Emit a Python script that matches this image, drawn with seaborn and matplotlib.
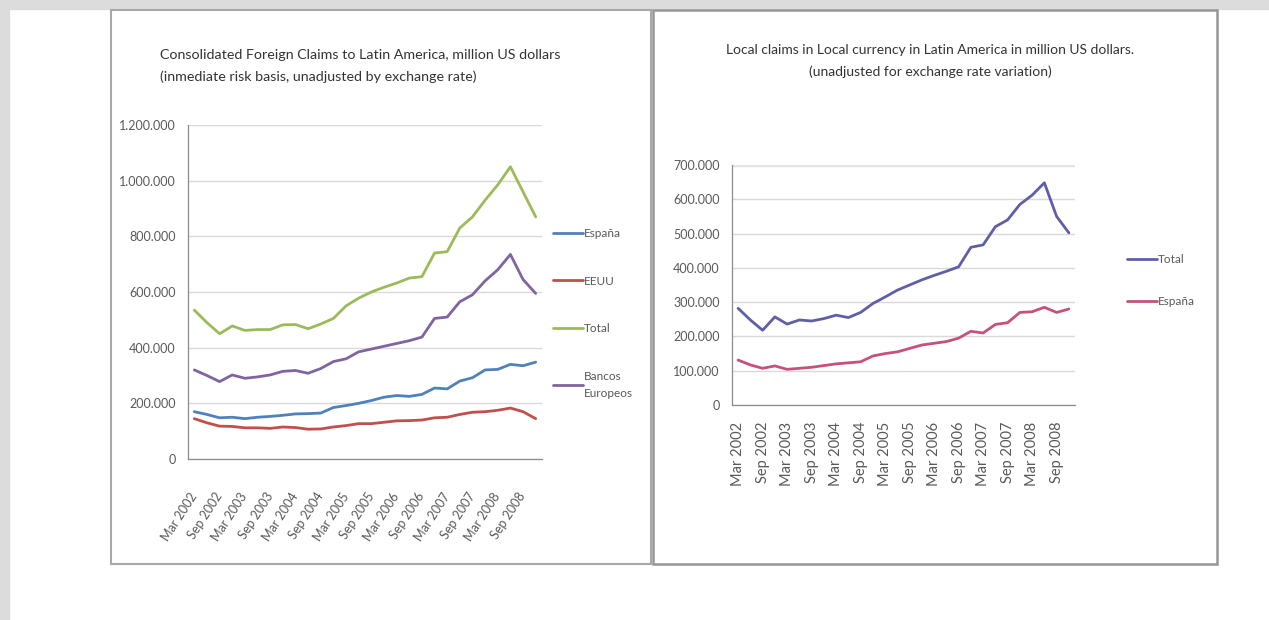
import numpy as np
import pandas as pd
import matplotlib
matplotlib.use("Agg")
import matplotlib.pyplot as plt
import seaborn as sns
from matplotlib.patches import Rectangle
from matplotlib.ticker import FuncFormatter

# quarterly data, Mar 2002 .. Dec 2008 (values in thousands of million USD)
quarters = [m + " " + str(y) for y in range(2002, 2009) for m in ["Mar", "Jun", "Sep", "Dec"]]

espana_cons = [170, 160, 148, 150, 145, 150, 153, 157, 162, 163, 165, 185, 192, 200,
               210, 222, 228, 225, 232, 255, 252, 280, 292, 320, 322, 340, 335, 348]
eeuu_cons = [145, 130, 118, 117, 112, 112, 110, 115, 113, 107, 108, 115, 120, 127,
             127, 132, 137, 138, 140, 148, 150, 160, 168, 170, 175, 183, 170, 145]
total_cons = [535, 490, 450, 478, 462, 465, 465, 482, 483, 468, 485, 505, 550, 578,
              600, 617, 632, 650, 655, 740, 745, 830, 870, 930, 985, 1050, 960, 870]
bancos_cons = [320, 300, 278, 302, 290, 295, 302, 315, 318, 308, 325, 350, 360, 385,
               395, 405, 415, 425, 438, 505, 510, 565, 590, 640, 680, 735, 645, 595]

total_local = [282, 248, 218, 257, 236, 248, 245, 252, 262, 255, 270, 296, 315, 335,
               350, 365, 378, 390, 403, 460, 467, 520, 540, 585, 612, 648, 550, 502]
espana_local = [131, 117, 107, 114, 104, 107, 110, 115, 120, 123, 126, 143, 150, 155,
                165, 175, 180, 185, 195, 215, 210, 235, 240, 270, 272, 285, 270, 280]

left_names = ["España", "EEUU", "Total", "Bancos\nEuropeos"]
left_colors = ["#4f81bd", "#c0504d", "#9bbb59", "#8064a2"]
right_names = ["Total", "España"]
right_colors = ["#5f5fa8", "#c8507c"]

n = len(quarters)
df_left = pd.DataFrame({
    "q": np.tile(np.arange(n), 4),
    "serie": np.repeat(left_names, n),
    "valor": np.array(espana_cons + eeuu_cons + total_cons + bancos_cons) * 1000,
})
df_right = pd.DataFrame({
    "q": np.tile(np.arange(n), 2),
    "serie": np.repeat(right_names, n),
    "valor": np.array(total_local + espana_local) * 1000,
})

sns.set_style("white")
plt.rcParams["font.family"] = ["Lato", "DejaVu Sans"]

W, H = 1269, 620
fig = plt.figure(figsize=(W / 100, H / 100), dpi=100)

# page background bands and chart frames
fig.patches.append(Rectangle((0, 1 - 9 / H), 1, 9 / H, transform=fig.transFigure,
                             color="#dcdcdc", zorder=0))
fig.patches.append(Rectangle((0, 0), 9 / W, 1, transform=fig.transFigure,
                             color="#dcdcdc", zorder=0))
fig.patches.append(Rectangle((111 / W, 1 - 564 / H), 540 / W, 554 / H, transform=fig.transFigure,
                             fill=False, edgecolor="#a8a8a8", lw=1.5, zorder=1))
fig.patches.append(Rectangle((653 / W, 1 - 564 / H), 564 / W, 554 / H, transform=fig.transFigure,
                             fill=False, edgecolor="#969696", lw=1.8, zorder=1))

fmt = FuncFormatter(lambda v, p: f"{int(v):,}".replace(",", "."))
txt = "#595959"


def style_axis(ax, top, step, labrot, labpad, xsize):
    ax.set_xlim(-0.5, n - 0.5)
    ax.set_ylim(0, top)
    ax.set_yticks(np.arange(0, top + 1, step))
    ax.yaxis.set_major_formatter(fmt)
    ax.grid(axis="y", color="#d9d9d9", lw=1)
    ax.set_axisbelow(True)
    for s in ["top", "right"]:
        ax.spines[s].set_visible(False)
    for s in ["left", "bottom"]:
        ax.spines[s].set_color("#8c8c8c")
        ax.spines[s].set_linewidth(0.9)
    ax.set_xticks(np.arange(0, n, 2))
    ax.set_xticks(np.arange(-0.5, n, 1), minor=True)
    ax.set_xticklabels(quarters[::2])
    ax.tick_params(axis="x", which="major", length=0, pad=labpad, labelsize=xsize, labelcolor=txt)
    ax.tick_params(axis="x", which="minor", length=3, color="#8c8c8c", direction="out")
    ax.tick_params(axis="y", length=3, color="#8c8c8c", direction="out", pad=6,
                   labelsize=9, labelcolor=txt)
    for lab in ax.get_xticklabels():
        lab.set_rotation(labrot)
        if labrot != 90:
            lab.set_ha("right")
            lab.set_va("center")
            lab.set_rotation_mode("anchor")
    ax.set_xlabel("")
    ax.set_ylabel("")


# left chart
ax1 = fig.add_axes([188 / W, 1 - 459 / H, 354 / W, 334 / H])
sns.lineplot(data=df_left, x="q", y="valor", hue="serie", hue_order=left_names,
             palette=left_colors, lw=2.0, ax=ax1, legend=True)
style_axis(ax1, 1200000, 200000, 57, 25, 9)
h, l = ax1.get_legend_handles_labels()
leg = ax1.legend(h, l, loc="upper left", bbox_to_anchor=(553 / W, 1 - 228 / H),
                 bbox_transform=fig.transFigure, frameon=False, fontsize=8.5,
                 labelcolor=txt, handlelength=2.5, handletextpad=0.15, labelspacing=3.1,
                 borderpad=0, borderaxespad=0)
for t in leg.get_texts():
    t.set_linespacing(1.7)
fig.text(160 / W, 1 - 66 / H,
         "Consolidated Foreign Claims to Latin America, million US dollars\n"
         "(inmediate risk basis, unadjusted by exchange rate)",
         ha="left", va="center", fontsize=10.3, color="#333333", linespacing=1.9)

# right chart
ax2 = fig.add_axes([732 / W, 1 - 405 / H, 343 / W, 240 / H])
sns.lineplot(data=df_right, x="q", y="valor", hue="serie", hue_order=right_names,
             palette=right_colors, lw=2.0, ax=ax2, legend=True)
style_axis(ax2, 700000, 100000, 90, 12, 10.5)
ax2.get_ygridlines()[-1].set_linewidth(2.5)
ax2.get_ygridlines()[-1].set_color("#e3e3e3")
h, l = ax2.get_legend_handles_labels()
ax2.legend(h, l, loc="upper left", bbox_to_anchor=(1127 / W, 1 - 254 / H),
           bbox_transform=fig.transFigure, frameon=False, fontsize=8.5,
           labelcolor=txt, handlelength=2.5, handletextpad=0.15, labelspacing=2.6,
           borderpad=0, borderaxespad=0)
fig.text(930 / W, 1 - 61 / H,
         "Local claims in Local currency in Latin America in million US dollars.\n"
         "(unadjusted for exchange rate variation)",
         ha="center", va="center", fontsize=10, color="#333333", linespacing=1.9)

fig.savefig("out.png", dpi=100)
